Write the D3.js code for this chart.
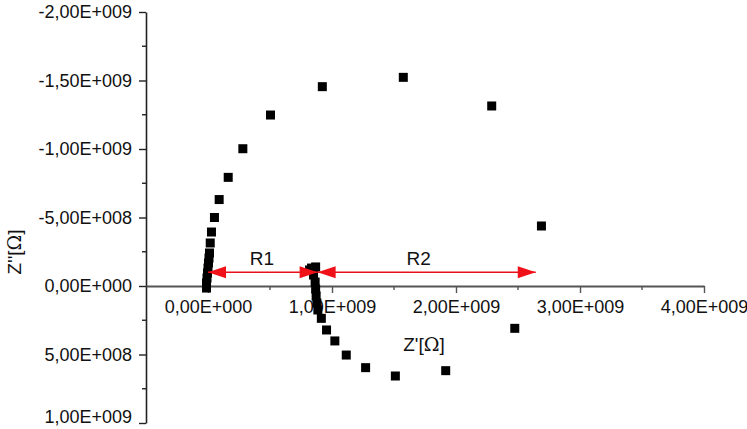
<!DOCTYPE html>
<html>
<head>
<meta charset="utf-8">
<script src="https://cdn.jsdelivr.net/npm/d3@7"></script>
<style>
    html, body { margin: 0; padding: 0; background: #fff; }
    svg { display: block; font-family: "Liberation Sans", Arial, sans-serif; }
</style>
</head>
<body>
<svg id="chart" width="747" height="429"></svg>
<script>
// Z' and Z'' values (Ohm)
var zReal = [
    -0.012e9, -0.012e9, -0.008e9, -0.004e9, 0.000e9, 0.004e9, 0.008e9, 0.012e9,
    0.018e9, 0.028e9, 0.052e9, 0.090e9, 0.163e9, 0.281e9, 0.504e9, 0.922e9,
    1.575e9, 2.288e9, 2.689e9, 2.474e9, 1.917e9, 1.511e9, 1.271e9, 1.115e9,
    1.023e9, 0.956e9, 0.914e9, 0.886e9, 0.878e9, 0.872e9, 0.868e9, 0.864e9,
    0.851e9, 0.835e9, 0.868e9, 0.819e9
];
var zImag = [
    0.015e9, -0.022e9, -0.058e9, -0.095e9, -0.131e9, -0.168e9, -0.204e9, -0.241e9,
    -0.314e9, -0.394e9, -0.500e9, -0.631e9, -0.793e9, -1.002e9, -1.248e9, -1.455e9,
    -1.523e9, -1.314e9, -0.438e9, 0.309e9, 0.618e9, 0.657e9, 0.596e9, 0.504e9,
    0.401e9, 0.321e9, 0.236e9, 0.175e9, 0.124e9, 0.073e9, 0.022e9, -0.029e9,
    -0.080e9, -0.131e9, -0.139e9, -0.117e9
];

// tick values
var xTicks = [0, 1e9, 2e9, 3e9, 4e9];
var yTicks = [-2e9, -1.5e9, -1e9, -0.5e9, 0, 0.5e9, 1e9];
var xTickLabels = ['0,00E+000', '1,00E+009', '2,00E+009', '3,00E+009', '4,00E+009'];
var yTickLabels = ['-2,00E+009', '-1,50E+009', '-1,00E+009', '-5,00E+008', '0,00E+000', '5,00E+008', '1,00E+009'];

// resistance arrows: label, start, end (Z'), drawn at Z''
var arrowNames = ['R1', 'R2'];
var arrowFrom = [0, 0.884e9];
var arrowTo = [0.884e9, 2.643e9];
var arrowLevel = -0.1e9;

var svg = d3.select('#chart');

var x = d3.scaleLinear().domain([-0.5e9, 4e9]).range([146, 704]);
var y = d3.scaleLinear().domain([-2e9, 1e9]).range([12, 423]);

// minor ticks
var xMinor = d3.range(0.5e9, 4e9, 1e9);
var yMinor = d3.range(-1.75e9, 1e9, 0.5e9);

// y axis (left edge)
var yAxis = svg.append('g')
    .attr('transform', 'translate(' + x(-0.5e9) + ',0)')
    .call(d3.axisLeft(y).tickValues(yTicks).tickSizeInner(7).tickSizeOuter(0).tickPadding(7)
        .tickFormat(function(d, i) { return yTickLabels[i]; }));
yAxis.selectAll('g.minor').data(yMinor).enter().append('line')
    .attr('x1', 0).attr('x2', -4)
    .attr('y1', function(d) { return y(d); }).attr('y2', function(d) { return y(d); })
    .attr('stroke', '#222').attr('stroke-width', 1.4);
yAxis.select('.domain').attr('stroke', '#222').attr('stroke-width', 1.6);
yAxis.selectAll('.tick line').attr('stroke', '#222').attr('stroke-width', 1.4);
yAxis.selectAll('text').style('font-size', '18px').attr('fill', '#111');
// keep the lowest label inside the picture
yAxis.selectAll('.tick text').filter(function(d) { return d === 1e9; }).attr('dy', '-0.05em');

// x axis crosses at Z'' = 0
var xAxis = svg.append('g')
    .attr('transform', 'translate(0,' + y(0) + ')')
    .call(d3.axisBottom(x).tickValues(xTicks).tickSizeInner(7).tickSizeOuter(0).tickPadding(7)
        .tickFormat(function(d, i) { return xTickLabels[i]; }));
xAxis.selectAll('g.minor').data(xMinor).enter().append('line')
    .attr('y1', 0).attr('y2', 4)
    .attr('x1', function(d) { return x(d); }).attr('x2', function(d) { return x(d); })
    .attr('stroke', '#555').attr('stroke-width', 1.4);
xAxis.select('.domain').attr('stroke', '#555').attr('stroke-width', 1.8);
xAxis.selectAll('.tick line').attr('stroke', '#555').attr('stroke-width', 1.4);
xAxis.selectAll('text').style('font-size', '18px').attr('fill', '#111');

// axis titles
var xTitle = svg.append('text')
    .attr('x', 424).attr('y', 351)
    .attr('text-anchor', 'middle')
    .style('font-size', '19px').attr('fill', '#111');
xTitle.append('tspan').text("Z'[");
xTitle.append('tspan').style('font-family', '"DejaVu Serif", "Liberation Serif", serif').text('Ω');
xTitle.append('tspan').text(']');

var yTitle = svg.append('text')
    .attr('transform', 'translate(21,252) rotate(-90)')
    .attr('text-anchor', 'middle')
    .style('font-size', '19px').attr('fill', '#111');
yTitle.append('tspan').text("Z''[");
yTitle.append('tspan').style('font-family', '"DejaVu Serif", "Liberation Serif", serif').text('Ω');
yTitle.append('tspan').text(']');

// data points
svg.append('g').selectAll('rect')
    .data(zReal)
    .enter().append('rect')
    .attr('x', function(d) { return x(d) - 4.5; })
    .attr('y', function(d, i) { return y(zImag[i]) - 4.5; })
    .attr('width', 9).attr('height', 9)
    .attr('fill', '#000');

// R1 / R2 arrows
var arrows = svg.append('g');
var head = 18, half = 6;
arrowNames.forEach(function(name, i) {
    var x0 = x(arrowFrom[i]), x1 = x(arrowTo[i]), yy = y(arrowLevel);
    arrows.append('line')
        .attr('x1', x0).attr('x2', x1).attr('y1', yy).attr('y2', yy)
        .attr('stroke', '#e8101a').attr('stroke-width', 1.4);
    arrows.append('path')
        .attr('d', 'M' + x0 + ',' + yy + 'L' + (x0 + head) + ',' + (yy - half) + 'L' + (x0 + head) + ',' + (yy + half) + 'Z')
        .attr('fill', '#f01018');
    arrows.append('path')
        .attr('d', 'M' + x1 + ',' + yy + 'L' + (x1 - head) + ',' + (yy - half) + 'L' + (x1 - head) + ',' + (yy + half) + 'Z')
        .attr('fill', '#f01018');
    arrows.append('text')
        .attr('x', (x0 + x1) / 2 + (i === 0 ? -1 : -8)).attr('y', yy - 7)
        .attr('text-anchor', 'middle')
        .style('font-size', '19px').attr('fill', '#111')
        .text(name);
});
</script>
</body>
</html>
